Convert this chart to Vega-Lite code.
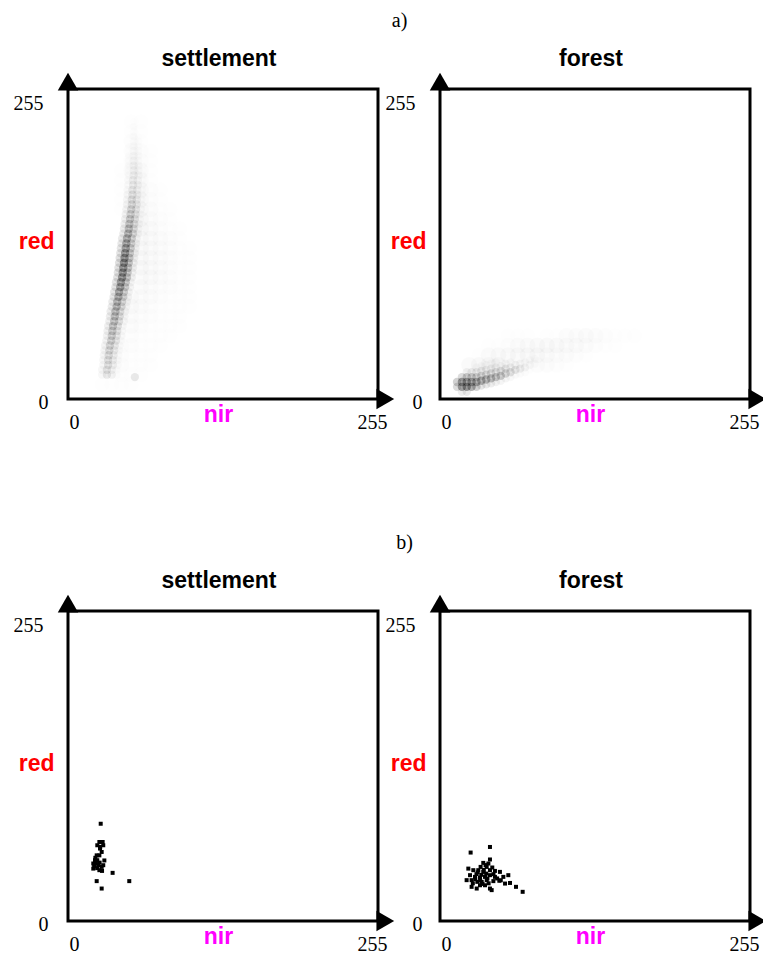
{
  "$schema": "https://vega.github.io/schema/vega-lite/v6.json",
  "autosize": {"type": "none"},
  "padding": {"left": 68, "top": 89, "right": 695, "bottom": 865},
  "background": "white",
  "datasets": {
    "settle_core": [
      {"nir":28,"red":20,"density":0.16},{"nir":32,"red":20,"density":0.35},{"nir":36,"red":20,"density":0.23},{"nir":40,"red":20,"density":0.09},
      {"nir":28,"red":24,"density":0.17},{"nir":32,"red":24,"density":0.37},{"nir":36,"red":24,"density":0.24},{"nir":40,"red":24,"density":0.09},
      {"nir":29,"red":28,"density":0.18},{"nir":33,"red":28,"density":0.39},{"nir":37,"red":28,"density":0.25},{"nir":41,"red":28,"density":0.1},
      {"nir":29,"red":32,"density":0.18},{"nir":33,"red":32,"density":0.41},{"nir":37,"red":32,"density":0.27},{"nir":41,"red":32,"density":0.1},
      {"nir":29.5,"red":36,"density":0.19},{"nir":33.5,"red":36,"density":0.43},{"nir":37.5,"red":36,"density":0.28},{"nir":41.5,"red":36,"density":0.11},
      {"nir":30,"red":40,"density":0.2},{"nir":34,"red":40,"density":0.45},{"nir":38,"red":40,"density":0.29},{"nir":42,"red":40,"density":0.11},
      {"nir":30.5,"red":44,"density":0.22},{"nir":34.5,"red":44,"density":0.48},{"nir":38.5,"red":44,"density":0.31},{"nir":42.5,"red":44,"density":0.12},
      {"nir":31.5,"red":48,"density":0.23},{"nir":35.5,"red":48,"density":0.51},{"nir":39.5,"red":48,"density":0.33},{"nir":43.5,"red":48,"density":0.13},
      {"nir":32,"red":52,"density":0.24},{"nir":36,"red":52,"density":0.54},{"nir":40,"red":52,"density":0.35},{"nir":44,"red":52,"density":0.14},
      {"nir":32.5,"red":56,"density":0.26},{"nir":36.5,"red":56,"density":0.57},{"nir":40.5,"red":56,"density":0.37},{"nir":44.5,"red":56,"density":0.14},
      {"nir":33,"red":60,"density":0.27},{"nir":37,"red":60,"density":0.6},{"nir":41,"red":60,"density":0.39},{"nir":45,"red":60,"density":0.15},
      {"nir":34,"red":64,"density":0.28},{"nir":38,"red":64,"density":0.63},{"nir":42,"red":64,"density":0.41},{"nir":46,"red":64,"density":0.16},
      {"nir":34.5,"red":68,"density":0.3},{"nir":38.5,"red":68,"density":0.66},{"nir":42.5,"red":68,"density":0.43},{"nir":46.5,"red":68,"density":0.17},
      {"nir":35,"red":72,"density":0.31},{"nir":39,"red":72,"density":0.69},{"nir":43,"red":72,"density":0.45},{"nir":47,"red":72,"density":0.17},
      {"nir":36,"red":76,"density":0.32},{"nir":40,"red":76,"density":0.72},{"nir":44,"red":76,"density":0.47},{"nir":48,"red":76,"density":0.18},
      {"nir":36.5,"red":80,"density":0.34},{"nir":40.5,"red":80,"density":0.75},{"nir":44.5,"red":80,"density":0.49},{"nir":48.5,"red":80,"density":0.19},
      {"nir":37.5,"red":84,"density":0.36},{"nir":41.5,"red":84,"density":0.79},{"nir":45.5,"red":84,"density":0.51},{"nir":49.5,"red":84,"density":0.2},
      {"nir":38,"red":88,"density":0.37},{"nir":42,"red":88,"density":0.83},{"nir":46,"red":88,"density":0.54},{"nir":50,"red":88,"density":0.21},
      {"nir":39,"red":92,"density":0.39},{"nir":43,"red":92,"density":0.87},{"nir":47,"red":92,"density":0.57},{"nir":51,"red":92,"density":0.22},
      {"nir":39.5,"red":96,"density":0.41},{"nir":43.5,"red":96,"density":0.91},{"nir":47.5,"red":96,"density":0.59},{"nir":51.5,"red":96,"density":0.23},
      {"nir":40.5,"red":100,"density":0.43},{"nir":44.5,"red":100,"density":0.95},{"nir":48.5,"red":100,"density":0.62},{"nir":52.5,"red":100,"density":0.24},
      {"nir":41,"red":104,"density":0.43},{"nir":45,"red":104,"density":0.96},{"nir":49,"red":104,"density":0.62},{"nir":53,"red":104,"density":0.24},
      {"nir":41.5,"red":108,"density":0.44},{"nir":45.5,"red":108,"density":0.98},{"nir":49.5,"red":108,"density":0.64},{"nir":53.5,"red":108,"density":0.25},
      {"nir":42,"red":112,"density":0.45},{"nir":46,"red":112,"density":0.99},{"nir":50,"red":112,"density":0.64},{"nir":54,"red":112,"density":0.25},
      {"nir":42.5,"red":116,"density":0.45},{"nir":46.5,"red":116,"density":1},{"nir":50.5,"red":116,"density":0.65},{"nir":54.5,"red":116,"density":0.25},
      {"nir":43,"red":120,"density":0.42},{"nir":47,"red":120,"density":0.93},{"nir":51,"red":120,"density":0.6},{"nir":55,"red":120,"density":0.23},
      {"nir":43.5,"red":124,"density":0.4},{"nir":47.5,"red":124,"density":0.88},{"nir":51.5,"red":124,"density":0.57},{"nir":55.5,"red":124,"density":0.22},
      {"nir":44,"red":128,"density":0.37},{"nir":48,"red":128,"density":0.83},{"nir":52,"red":128,"density":0.54},{"nir":56,"red":128,"density":0.21},
      {"nir":44.5,"red":132,"density":0.35},{"nir":48.5,"red":132,"density":0.78},{"nir":52.5,"red":132,"density":0.51},{"nir":56.5,"red":132,"density":0.2},
      {"nir":45.5,"red":136,"density":0.33},{"nir":49.5,"red":136,"density":0.73},{"nir":53.5,"red":136,"density":0.47},{"nir":57.5,"red":136,"density":0.18},
      {"nir":46,"red":140,"density":0.31},{"nir":50,"red":140,"density":0.68},{"nir":54,"red":140,"density":0.44},{"nir":58,"red":140,"density":0.17},
      {"nir":46.5,"red":144,"density":0.28},{"nir":50.5,"red":144,"density":0.63},{"nir":54.5,"red":144,"density":0.41},{"nir":58.5,"red":144,"density":0.16},
      {"nir":47,"red":148,"density":0.26},{"nir":51,"red":148,"density":0.58},{"nir":55,"red":148,"density":0.38},{"nir":59,"red":148,"density":0.15},
      {"nir":47.5,"red":152,"density":0.24},{"nir":51.5,"red":152,"density":0.53},{"nir":55.5,"red":152,"density":0.34},{"nir":59.5,"red":152,"density":0.13},
      {"nir":48,"red":156,"density":0.22},{"nir":52,"red":156,"density":0.49},{"nir":56,"red":156,"density":0.32},{"nir":60,"red":156,"density":0.12},
      {"nir":48.5,"red":160,"density":0.2},{"nir":52.5,"red":160,"density":0.45},{"nir":56.5,"red":160,"density":0.29},{"nir":60.5,"red":160,"density":0.11},
      {"nir":48.5,"red":164,"density":0.18},{"nir":52.5,"red":164,"density":0.41},{"nir":56.5,"red":164,"density":0.27},{"nir":60.5,"red":164,"density":0.1},
      {"nir":49,"red":168,"density":0.17},{"nir":53,"red":168,"density":0.37},{"nir":57,"red":168,"density":0.24},{"nir":61,"red":168,"density":0.09},
      {"nir":49,"red":172,"density":0.15},{"nir":53,"red":172,"density":0.33},{"nir":57,"red":172,"density":0.21},{"nir":61,"red":172,"density":0.08},
      {"nir":49.5,"red":176,"density":0.13},{"nir":53.5,"red":176,"density":0.29},{"nir":57.5,"red":176,"density":0.19},{"nir":61.5,"red":176,"density":0.07},
      {"nir":49.5,"red":180,"density":0.12},{"nir":53.5,"red":180,"density":0.26},{"nir":57.5,"red":180,"density":0.17},{"nir":61.5,"red":180,"density":0.07},
      {"nir":50,"red":184,"density":0.1},{"nir":54,"red":184,"density":0.23},{"nir":58,"red":184,"density":0.15},{"nir":62,"red":184,"density":0.06},
      {"nir":50,"red":188,"density":0.09},{"nir":54,"red":188,"density":0.21},{"nir":58,"red":188,"density":0.14},{"nir":62,"red":188,"density":0.05},
      {"nir":50,"red":192,"density":0.09},{"nir":54,"red":192,"density":0.19},{"nir":58,"red":192,"density":0.12},{"nir":62,"red":192,"density":0.05},
      {"nir":50,"red":196,"density":0.08},{"nir":54,"red":196,"density":0.17},{"nir":58,"red":196,"density":0.11},
      {"nir":50,"red":200,"density":0.06},{"nir":54,"red":200,"density":0.14},{"nir":58,"red":200,"density":0.09},
      {"nir":50,"red":204,"density":0.05},{"nir":54,"red":204,"density":0.12},{"nir":58,"red":204,"density":0.08},
      {"nir":50,"red":208,"density":0.05},{"nir":54,"red":208,"density":0.1},{"nir":58,"red":208,"density":0.07},
      {"nir":54,"red":212,"density":0.09},{"nir":58,"red":212,"density":0.06},
      {"nir":54,"red":216,"density":0.08},{"nir":58,"red":216,"density":0.05},
      {"nir":54,"red":220,"density":0.07},{"nir":54,"red":224,"density":0.06},{"nir":54,"red":228,"density":0.05},
      {"nir":55,"red":18,"density":0.35}
    ],
    "settle_halo": [
      {"nir":52,"red":228,"density":0.04},{"nir":60,"red":228,"density":0.03},
      {"nir":52,"red":220,"density":0.05},{"nir":60,"red":220,"density":0.04},
      {"nir":52,"red":212,"density":0.06},{"nir":60,"red":212,"density":0.05},{"nir":68,"red":212,"density":0.02},
      {"nir":52,"red":204,"density":0.06},{"nir":60,"red":204,"density":0.06},{"nir":68,"red":204,"density":0.03},
      {"nir":52,"red":196,"density":0.07},{"nir":60,"red":196,"density":0.07},{"nir":68,"red":196,"density":0.03},
      {"nir":44,"red":188,"density":0.03},{"nir":52,"red":188,"density":0.08},{"nir":60,"red":188,"density":0.08},{"nir":68,"red":188,"density":0.04},
      {"nir":44,"red":180,"density":0.03},{"nir":60,"red":180,"density":0.09},{"nir":68,"red":180,"density":0.05},{"nir":76,"red":180,"density":0.02},
      {"nir":44,"red":172,"density":0.04},{"nir":60,"red":172,"density":0.1},{"nir":68,"red":172,"density":0.06},{"nir":76,"red":172,"density":0.03},
      {"nir":44,"red":164,"density":0.04},{"nir":60,"red":164,"density":0.1},{"nir":68,"red":164,"density":0.07},{"nir":76,"red":164,"density":0.04},{"nir":84,"red":164,"density":0.02},
      {"nir":44,"red":156,"density":0.04},{"nir":60,"red":156,"density":0.11},{"nir":68,"red":156,"density":0.08},{"nir":76,"red":156,"density":0.05},{"nir":84,"red":156,"density":0.03},
      {"nir":60,"red":148,"density":0.12},{"nir":68,"red":148,"density":0.09},{"nir":76,"red":148,"density":0.06},{"nir":84,"red":148,"density":0.04},{"nir":92,"red":148,"density":0.02},
      {"nir":60,"red":140,"density":0.12},{"nir":68,"red":140,"density":0.1},{"nir":76,"red":140,"density":0.07},{"nir":84,"red":140,"density":0.05},{"nir":92,"red":140,"density":0.03},
      {"nir":60,"red":132,"density":0.12},{"nir":68,"red":132,"density":0.11},{"nir":76,"red":132,"density":0.08},{"nir":84,"red":132,"density":0.06},{"nir":92,"red":132,"density":0.04},{"nir":100,"red":132,"density":0.02},
      {"nir":60,"red":124,"density":0.12},{"nir":68,"red":124,"density":0.11},{"nir":76,"red":124,"density":0.09},{"nir":84,"red":124,"density":0.07},{"nir":92,"red":124,"density":0.04},{"nir":100,"red":124,"density":0.03},
      {"nir":60,"red":116,"density":0.12},{"nir":68,"red":116,"density":0.11},{"nir":76,"red":116,"density":0.09},{"nir":84,"red":116,"density":0.07},{"nir":92,"red":116,"density":0.05},{"nir":100,"red":116,"density":0.03},{"nir":108,"red":116,"density":0.02},
      {"nir":60,"red":108,"density":0.12},{"nir":68,"red":108,"density":0.1},{"nir":76,"red":108,"density":0.09},{"nir":84,"red":108,"density":0.07},{"nir":92,"red":108,"density":0.05},{"nir":100,"red":108,"density":0.03},{"nir":108,"red":108,"density":0.02},
      {"nir":60,"red":100,"density":0.11},{"nir":68,"red":100,"density":0.1},{"nir":76,"red":100,"density":0.08},{"nir":84,"red":100,"density":0.06},{"nir":92,"red":100,"density":0.05},{"nir":100,"red":100,"density":0.03},{"nir":108,"red":100,"density":0.02},
      {"nir":60,"red":92,"density":0.1},{"nir":68,"red":92,"density":0.09},{"nir":76,"red":92,"density":0.07},{"nir":84,"red":92,"density":0.06},{"nir":92,"red":92,"density":0.04},{"nir":100,"red":92,"density":0.03},{"nir":108,"red":92,"density":0.02},{"nir":116,"red":92,"density":0.02},
      {"nir":52,"red":84,"density":0.1},{"nir":60,"red":84,"density":0.09},{"nir":68,"red":84,"density":0.08},{"nir":76,"red":84,"density":0.06},{"nir":84,"red":84,"density":0.05},{"nir":92,"red":84,"density":0.04},{"nir":100,"red":84,"density":0.03},{"nir":108,"red":84,"density":0.02},{"nir":116,"red":84,"density":0.02},
      {"nir":52,"red":76,"density":0.1},{"nir":60,"red":76,"density":0.08},{"nir":68,"red":76,"density":0.07},{"nir":76,"red":76,"density":0.05},{"nir":84,"red":76,"density":0.04},{"nir":92,"red":76,"density":0.03},{"nir":100,"red":76,"density":0.03},{"nir":108,"red":76,"density":0.02},{"nir":116,"red":76,"density":0.02},
      {"nir":52,"red":68,"density":0.09},{"nir":60,"red":68,"density":0.07},{"nir":68,"red":68,"density":0.06},{"nir":76,"red":68,"density":0.05},{"nir":84,"red":68,"density":0.04},{"nir":92,"red":68,"density":0.03},{"nir":100,"red":68,"density":0.02},{"nir":108,"red":68,"density":0.02},{"nir":116,"red":68,"density":0.02},{"nir":124,"red":68,"density":0.015},
      {"nir":52,"red":60,"density":0.08},{"nir":60,"red":60,"density":0.06},{"nir":68,"red":60,"density":0.05},{"nir":76,"red":60,"density":0.04},{"nir":84,"red":60,"density":0.03},{"nir":92,"red":60,"density":0.03},{"nir":100,"red":60,"density":0.02},{"nir":108,"red":60,"density":0.02},{"nir":116,"red":60,"density":0.02},{"nir":124,"red":60,"density":0.015},{"nir":132,"red":60,"density":0.01},
      {"nir":52,"red":52,"density":0.07},{"nir":60,"red":52,"density":0.05},{"nir":68,"red":52,"density":0.04},{"nir":76,"red":52,"density":0.03},{"nir":84,"red":52,"density":0.03},{"nir":92,"red":52,"density":0.02},{"nir":100,"red":52,"density":0.02},{"nir":108,"red":52,"density":0.02},{"nir":116,"red":52,"density":0.015},{"nir":124,"red":52,"density":0.015},{"nir":132,"red":52,"density":0.01},{"nir":140,"red":52,"density":0.01},
      {"nir":44,"red":44,"density":0.07},{"nir":52,"red":44,"density":0.06},{"nir":60,"red":44,"density":0.04},{"nir":68,"red":44,"density":0.03},{"nir":76,"red":44,"density":0.03},{"nir":84,"red":44,"density":0.02},{"nir":92,"red":44,"density":0.02},{"nir":100,"red":44,"density":0.015},{"nir":108,"red":44,"density":0.015},{"nir":116,"red":44,"density":0.015},{"nir":124,"red":44,"density":0.015},{"nir":132,"red":44,"density":0.015},{"nir":140,"red":44,"density":0.015},{"nir":148,"red":44,"density":0.01},
      {"nir":44,"red":36,"density":0.06},{"nir":52,"red":36,"density":0.05},{"nir":60,"red":36,"density":0.04},{"nir":68,"red":36,"density":0.03},{"nir":76,"red":36,"density":0.02},{"nir":84,"red":36,"density":0.02},{"nir":92,"red":36,"density":0.015},{"nir":100,"red":36,"density":0.015},{"nir":108,"red":36,"density":0.01},{"nir":116,"red":36,"density":0.01},{"nir":124,"red":36,"density":0.01},{"nir":132,"red":36,"density":0.01},
      {"nir":44,"red":28,"density":0.06},{"nir":52,"red":28,"density":0.05},{"nir":60,"red":28,"density":0.04},{"nir":68,"red":28,"density":0.03},{"nir":76,"red":28,"density":0.02},{"nir":84,"red":28,"density":0.015},{"nir":92,"red":28,"density":0.01},{"nir":100,"red":28,"density":0.01},
      {"nir":44,"red":20,"density":0.05},{"nir":52,"red":20,"density":0.05},{"nir":60,"red":20,"density":0.04},{"nir":68,"red":20,"density":0.02},{"nir":76,"red":20,"density":0.015},
      {"nir":28,"red":12,"density":0.03},{"nir":36,"red":12,"density":0.04},{"nir":44,"red":12,"density":0.04},{"nir":52,"red":12,"density":0.04},{"nir":60,"red":12,"density":0.02}
    ],
    "forest_core": [
      {"nir":14,"red":10,"density":0.5},{"nir":14,"red":14,"density":0.6},
      {"nir":18,"red":6,"density":0.3},{"nir":18,"red":10,"density":0.95},{"nir":18,"red":14,"density":0.95},{"nir":18,"red":18,"density":0.5},
      {"nir":22,"red":6,"density":0.35},{"nir":22,"red":10,"density":1},{"nir":22,"red":14,"density":0.95},{"nir":22,"red":18,"density":0.6},{"nir":22,"red":22,"density":0.25},
      {"nir":26,"red":10,"density":0.9},{"nir":26,"red":14,"density":0.9},{"nir":26,"red":18,"density":0.6},{"nir":26,"red":22,"density":0.3},
      {"nir":30,"red":10,"density":0.6},{"nir":30,"red":14,"density":0.85},{"nir":30,"red":18,"density":0.55},{"nir":30,"red":22,"density":0.3},{"nir":30,"red":26,"density":0.15},
      {"nir":34,"red":11,"density":0.4},{"nir":34,"red":15,"density":0.8},{"nir":34,"red":19,"density":0.5},{"nir":34,"red":23,"density":0.3},{"nir":34,"red":27,"density":0.15},
      {"nir":38,"red":12,"density":0.35},{"nir":38,"red":16,"density":0.75},{"nir":38,"red":20,"density":0.45},{"nir":38,"red":24,"density":0.25},{"nir":38,"red":28,"density":0.15},
      {"nir":42,"red":13,"density":0.3},{"nir":42,"red":17,"density":0.7},{"nir":42,"red":21,"density":0.45},{"nir":42,"red":25,"density":0.25},{"nir":42,"red":29,"density":0.15},
      {"nir":46,"red":14,"density":0.25},{"nir":46,"red":18,"density":0.65},{"nir":46,"red":22,"density":0.4},{"nir":46,"red":26,"density":0.22},{"nir":46,"red":30,"density":0.13},
      {"nir":50,"red":15,"density":0.2},{"nir":50,"red":19,"density":0.6},{"nir":50,"red":23,"density":0.38},{"nir":50,"red":27,"density":0.2},
      {"nir":54,"red":17,"density":0.2},{"nir":54,"red":21,"density":0.5},{"nir":54,"red":25,"density":0.32},{"nir":54,"red":29,"density":0.18},
      {"nir":58,"red":18,"density":0.15},{"nir":58,"red":22,"density":0.42},{"nir":58,"red":26,"density":0.28},{"nir":58,"red":30,"density":0.16},
      {"nir":62,"red":20,"density":0.12},{"nir":62,"red":24,"density":0.35},{"nir":62,"red":28,"density":0.22},
      {"nir":66,"red":21,"density":0.1},{"nir":66,"red":25,"density":0.28},{"nir":66,"red":29,"density":0.18},
      {"nir":70,"red":22,"density":0.08},{"nir":70,"red":26,"density":0.2},{"nir":70,"red":30,"density":0.14},
      {"nir":74,"red":24,"density":0.06},{"nir":74,"red":28,"density":0.15},{"nir":74,"red":32,"density":0.1},
      {"nir":78,"red":29,"density":0.1},{"nir":78,"red":33,"density":0.08}
    ],
    "forest_halo": [
      {"nir":24,"red":28,"density":0.12},
      {"nir":32,"red":28,"density":0.14},{"nir":32,"red":36,"density":0.05},
      {"nir":40,"red":28,"density":0.15},{"nir":40,"red":36,"density":0.1},{"nir":40,"red":44,"density":0.03},
      {"nir":48,"red":28,"density":0.15},{"nir":48,"red":36,"density":0.12},{"nir":48,"red":44,"density":0.05},
      {"nir":56,"red":36,"density":0.13},{"nir":56,"red":44,"density":0.07},{"nir":56,"red":52,"density":0.04},
      {"nir":64,"red":36,"density":0.13},{"nir":64,"red":44,"density":0.1},{"nir":64,"red":52,"density":0.05},{"nir":64,"red":60,"density":0.02},
      {"nir":72,"red":36,"density":0.13},{"nir":72,"red":44,"density":0.1},{"nir":72,"red":52,"density":0.03},
      {"nir":80,"red":28,"density":0.08},{"nir":80,"red":36,"density":0.12},{"nir":80,"red":44,"density":0.12},
      {"nir":88,"red":28,"density":0.08},{"nir":88,"red":36,"density":0.1},{"nir":88,"red":44,"density":0.12},{"nir":88,"red":52,"density":0.03},
      {"nir":96,"red":28,"density":0.06},{"nir":96,"red":36,"density":0.09},{"nir":96,"red":44,"density":0.12},{"nir":96,"red":52,"density":0.05},
      {"nir":104,"red":28,"density":0.04},{"nir":104,"red":36,"density":0.08},{"nir":104,"red":44,"density":0.11},{"nir":104,"red":52,"density":0.08},
      {"nir":112,"red":36,"density":0.06},{"nir":112,"red":44,"density":0.1},{"nir":112,"red":52,"density":0.09},
      {"nir":120,"red":36,"density":0.04},{"nir":120,"red":44,"density":0.08},{"nir":120,"red":52,"density":0.1},
      {"nir":128,"red":44,"density":0.06},{"nir":128,"red":52,"density":0.09},{"nir":128,"red":60,"density":0.02},
      {"nir":136,"red":44,"density":0.04},{"nir":136,"red":52,"density":0.06},
      {"nir":144,"red":44,"density":0.03},{"nir":144,"red":52,"density":0.04},
      {"nir":152,"red":52,"density":0.03},{"nir":160,"red":52,"density":0.025},{"nir":168,"red":52,"density":0.02}
    ],
    "settle_samples": [
      {"nir":26.9,"red":80},{"nir":25.8,"red":65},{"nir":28.5,"red":65},{"nir":24.1,"red":62.3},{"nir":29,"red":62.3},
      {"nir":26.3,"red":59.6},{"nir":26.5,"red":61},{"nir":27.7,"red":56.8},{"nir":23.6,"red":54},{"nir":25.8,"red":54},
      {"nir":22.5,"red":52},{"nir":22.2,"red":50},{"nir":24.1,"red":50},{"nir":26,"red":48},{"nir":20.8,"red":47.3},
      {"nir":23,"red":47.3},{"nir":24.9,"red":45.9},{"nir":21.5,"red":45},{"nir":27.7,"red":44.5},{"nir":29.9,"red":49.8},
      {"nir":29,"red":45.9},{"nir":20.8,"red":43.1},{"nir":24,"red":43.5},{"nir":25.8,"red":41.8},{"nir":28,"red":41.2},
      {"nir":36.7,"red":39.6},{"nir":50.4,"red":32.8},{"nir":23.6,"red":32.8},{"nir":27.7,"red":26.7}
    ],
    "forest_samples": [
      {"nir":25.2,"red":56.3},{"nir":41.1,"red":60.9},{"nir":41.1,"red":50.6},{"nir":35.6,"red":47.8},{"nir":39.8,"red":47.3},
      {"nir":33.4,"red":44.5},{"nir":38.4,"red":44.5},{"nir":23.3,"red":43.1},{"nir":27.4,"red":41.8},{"nir":31.5,"red":41.8},
      {"nir":35.6,"red":40.4},{"nir":41.1,"red":41.8},{"nir":45.2,"red":41.2},{"nir":49.3,"red":40.4},{"nir":24.7,"red":37.7},
      {"nir":28.8,"red":36.3},{"nir":32.9,"red":35.8},{"nir":37,"red":36.3},{"nir":41.1,"red":37.7},{"nir":45.2,"red":36.3},
      {"nir":21.9,"red":33.6},{"nir":26,"red":33.6},{"nir":30.7,"red":32.2},{"nir":34.3,"red":32.2},{"nir":38.4,"red":33.6},
      {"nir":43.9,"red":32.8},{"nir":48.8,"red":33.1},{"nir":52.1,"red":36.3},{"nir":56.2,"red":37.7},{"nir":53.5,"red":30.8},
      {"nir":57.6,"red":31.3},{"nir":26,"red":28.1},{"nir":30.2,"red":26.7},{"nir":41.1,"red":26.7},{"nir":42.5,"red":25.4},
      {"nir":62.5,"red":28.1},{"nir":68,"red":24},{"nir":37,"red":29.4},{"nir":32.9,"red":29.4},
      {"nir":34,"red":38},{"nir":38,"red":39},{"nir":30,"red":38.5},{"nir":36,"red":42},{"nir":39,"red":35},
      {"nir":33,"red":33.5},{"nir":29,"red":34.5},{"nir":44,"red":38.5},{"nir":47,"red":35},{"nir":40,"red":31},
      {"nir":35,"red":30.5},{"nir":27,"red":31},{"nir":50,"red":33.5},{"nir":31,"red":40},{"nir":37.5,"red":46},{"nir":43,"red":44}
    ]
  },
  "vconcat": [
    {
      "title": {"text": "a)", "font": "Liberation Serif", "fontWeight": "normal", "fontSize": 20, "anchor": "middle", "frame": "bounds", "offset": -1, "baseline": "alphabetic", "dx": 10},
      "bounds": "flush",
      "spacing": 62,
      "hconcat": [
        {
          "title": {"text": "settlement", "frame": "group", "offset": -16, "baseline": "alphabetic", "dx": -4},
          "width": 310, "height": 310,
          "layer": [
            {"data": {"name": "settle_halo"}, "mark": {"type": "circle", "size": 260, "color": "black"},
             "encoding": {
               "x": {"field": "nir", "type": "quantitative", "scale": {"domain": [0, 255], "nice": false, "zero": false},
                     "axis": {"values": [0, 255], "title": "nir", "titleColor": "#ff00ff", "titleX": 150, "titleY": 15, "titleAlign": "center", "titleBaseline": "middle", "labelAlign": "center", "labelBaseline": "middle", "labelPadding": 23, "labelOffset": {"condition": {"test": "datum.value == 0", "value": 6}, "value": -6}}},
               "y": {"field": "red", "type": "quantitative", "scale": {"domain": [0, 255], "nice": false, "zero": false},
                     "axis": {"values": [0, 255], "title": "red", "titleColor": "#ff0000", "titleAngle": 0, "titleX": -14, "titleY": 152, "titleAlign": "right", "titleBaseline": "middle", "labelAlign": "right", "labelBaseline": "middle", "labelPadding": {"condition": {"test": "datum.value == 255", "value": 25}, "value": 20}, "labelOffset": {"condition": {"test": "datum.value == 255", "value": 14}, "value": 3}}},
               "opacity": {"field": "density", "type": "quantitative", "scale": {"domain": [0, 1], "range": [0, 0.36]}, "legend": null}
             }},
            {"data": {"name": "settle_core"}, "mark": {"type": "circle", "size": 70, "color": "black"},
             "encoding": {
               "x": {"field": "nir", "type": "quantitative"},
               "y": {"field": "red", "type": "quantitative"},
               "opacity": {"field": "density", "type": "quantitative", "scale": {"type": "pow", "exponent": 1.4, "domain": [0, 1], "range": [0, 0.85]}, "legend": null}
             }},
            {"data": {"values": [{}]}, "mark": {"type": "point", "shape": "triangle-up", "size": 420, "filled": true, "color": "black", "opacity": 1},
             "encoding": {"x": {"datum": 0}, "y": {"datum": 261}}},
            {"data": {"values": [{}]}, "mark": {"type": "point", "shape": "triangle-right", "size": 420, "filled": true, "color": "black", "opacity": 1},
             "encoding": {"x": {"datum": 261}, "y": {"datum": 0}}}
          ]
        },
        {
          "title": {"text": "forest", "frame": "group", "offset": -16, "baseline": "alphabetic", "dx": -4},
          "width": 310, "height": 310,
          "layer": [
            {"data": {"name": "forest_halo"}, "mark": {"type": "circle", "size": 260, "color": "black"},
             "encoding": {
               "x": {"field": "nir", "type": "quantitative", "scale": {"domain": [0, 255], "nice": false, "zero": false},
                     "axis": {"values": [0, 255], "title": "nir", "titleColor": "#ff00ff", "titleX": 150, "titleY": 15, "titleAlign": "center", "titleBaseline": "middle", "labelAlign": "center", "labelBaseline": "middle", "labelPadding": 23, "labelOffset": {"condition": {"test": "datum.value == 0", "value": 6}, "value": -6}}},
               "y": {"field": "red", "type": "quantitative", "scale": {"domain": [0, 255], "nice": false, "zero": false},
                     "axis": {"values": [0, 255], "title": "red", "titleColor": "#ff0000", "titleAngle": 0, "titleX": -14, "titleY": 152, "titleAlign": "right", "titleBaseline": "middle", "labelAlign": "right", "labelBaseline": "middle", "labelPadding": {"condition": {"test": "datum.value == 255", "value": 25}, "value": 18}, "labelOffset": {"condition": {"test": "datum.value == 255", "value": 14}, "value": 3}}},
               "opacity": {"field": "density", "type": "quantitative", "scale": {"domain": [0, 1], "range": [0, 0.36]}, "legend": null}
             }},
            {"data": {"name": "forest_core"}, "mark": {"type": "circle", "size": 70, "color": "black"},
             "encoding": {
               "x": {"field": "nir", "type": "quantitative"},
               "y": {"field": "red", "type": "quantitative"},
               "opacity": {"field": "density", "type": "quantitative", "scale": {"type": "pow", "exponent": 1.4, "domain": [0, 1], "range": [0, 0.85]}, "legend": null}
             }},
            {"data": {"values": [{}]}, "mark": {"type": "point", "shape": "triangle-up", "size": 420, "filled": true, "color": "black", "opacity": 1},
             "encoding": {"x": {"datum": 0}, "y": {"datum": 261}}},
            {"data": {"values": [{}]}, "mark": {"type": "point", "shape": "triangle-right", "size": 420, "filled": true, "color": "black", "opacity": 1},
             "encoding": {"x": {"datum": 261}, "y": {"datum": 0}}}
          ]
        }
      ]
    },
    {
      "title": {"text": "b)", "font": "Liberation Serif", "fontWeight": "normal", "fontSize": 20, "anchor": "middle", "frame": "bounds", "offset": -1, "baseline": "alphabetic", "dx": 15},
      "bounds": "flush",
      "spacing": 62,
      "hconcat": [
        {
          "title": {"text": "settlement", "frame": "group", "offset": -16, "baseline": "alphabetic", "dx": -4},
          "width": 310, "height": 310,
          "layer": [
            {"data": {"name": "settle_samples"}, "mark": {"type": "square", "size": 16, "color": "black", "opacity": 1},
             "encoding": {
               "x": {"field": "nir", "type": "quantitative", "scale": {"domain": [0, 255], "nice": false, "zero": false},
                     "axis": {"values": [0, 255], "title": "nir", "titleColor": "#ff00ff", "titleX": 150, "titleY": 15, "titleAlign": "center", "titleBaseline": "middle", "labelAlign": "center", "labelBaseline": "middle", "labelPadding": 23, "labelOffset": {"condition": {"test": "datum.value == 0", "value": 6}, "value": -6}}},
               "y": {"field": "red", "type": "quantitative", "scale": {"domain": [0, 255], "nice": false, "zero": false},
                     "axis": {"values": [0, 255], "title": "red", "titleColor": "#ff0000", "titleAngle": 0, "titleX": -14, "titleY": 152, "titleAlign": "right", "titleBaseline": "middle", "labelAlign": "right", "labelBaseline": "middle", "labelPadding": {"condition": {"test": "datum.value == 255", "value": 25}, "value": 20}, "labelOffset": {"condition": {"test": "datum.value == 255", "value": 14}, "value": 3}}}
             }},
            {"data": {"values": [{}]}, "mark": {"type": "point", "shape": "triangle-up", "size": 420, "filled": true, "color": "black", "opacity": 1},
             "encoding": {"x": {"datum": 0}, "y": {"datum": 261}}},
            {"data": {"values": [{}]}, "mark": {"type": "point", "shape": "triangle-right", "size": 420, "filled": true, "color": "black", "opacity": 1},
             "encoding": {"x": {"datum": 261}, "y": {"datum": 0}}}
          ]
        },
        {
          "title": {"text": "forest", "frame": "group", "offset": -16, "baseline": "alphabetic", "dx": -4},
          "width": 310, "height": 310,
          "layer": [
            {"data": {"name": "forest_samples"}, "mark": {"type": "square", "size": 16, "color": "black", "opacity": 1},
             "encoding": {
               "x": {"field": "nir", "type": "quantitative", "scale": {"domain": [0, 255], "nice": false, "zero": false},
                     "axis": {"values": [0, 255], "title": "nir", "titleColor": "#ff00ff", "titleX": 150, "titleY": 15, "titleAlign": "center", "titleBaseline": "middle", "labelAlign": "center", "labelBaseline": "middle", "labelPadding": 23, "labelOffset": {"condition": {"test": "datum.value == 0", "value": 6}, "value": -6}}},
               "y": {"field": "red", "type": "quantitative", "scale": {"domain": [0, 255], "nice": false, "zero": false},
                     "axis": {"values": [0, 255], "title": "red", "titleColor": "#ff0000", "titleAngle": 0, "titleX": -14, "titleY": 152, "titleAlign": "right", "titleBaseline": "middle", "labelAlign": "right", "labelBaseline": "middle", "labelPadding": {"condition": {"test": "datum.value == 255", "value": 25}, "value": 18}, "labelOffset": {"condition": {"test": "datum.value == 255", "value": 14}, "value": 3}}}
             }},
            {"data": {"values": [{}]}, "mark": {"type": "point", "shape": "triangle-up", "size": 420, "filled": true, "color": "black", "opacity": 1},
             "encoding": {"x": {"datum": 0}, "y": {"datum": 261}}},
            {"data": {"values": [{}]}, "mark": {"type": "point", "shape": "triangle-right", "size": 420, "filled": true, "color": "black", "opacity": 1},
             "encoding": {"x": {"datum": 261}, "y": {"datum": 0}}}
          ]
        }
      ]
    }
  ],
  "bounds": "flush",
  "spacing": 522,
  "config": {
    "view": {"stroke": "black", "strokeWidth": 3},
    "axis": {"grid": false, "ticks": false, "tickSize": 0, "domain": false, "labelFlush": false, "labelOverlap": false, "labelBound": false,
             "labelFont": "Liberation Serif", "labelFontSize": 20, "labelColor": "black",
             "titleFont": "Liberation Sans", "titleFontWeight": "bold", "titleFontSize": 23},
    "title": {"font": "Liberation Sans", "fontSize": 23, "fontWeight": "bold", "color": "black"}
  }
}
